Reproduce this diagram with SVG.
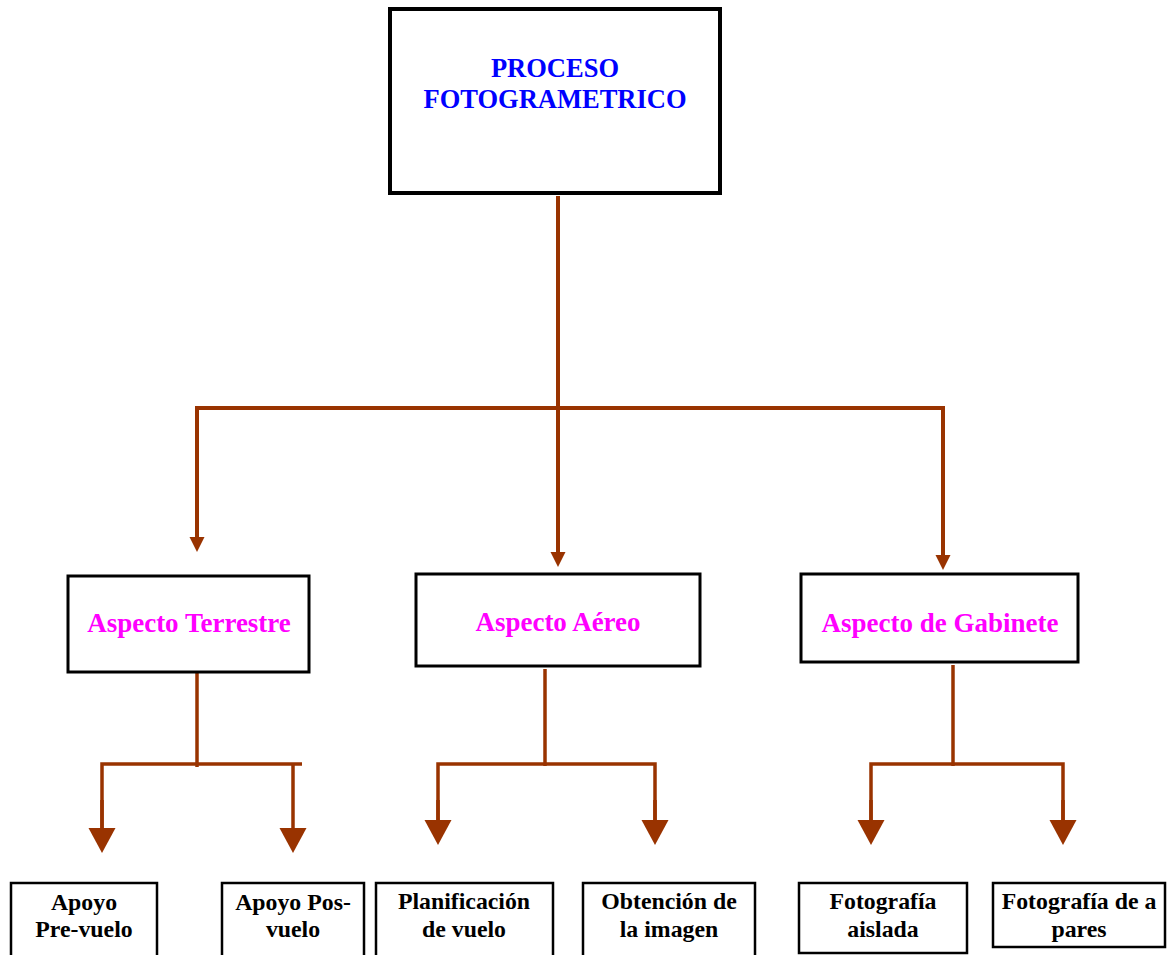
<svg xmlns="http://www.w3.org/2000/svg" width="1170" height="955" viewBox="0 0 1170 955">
<style>
  .box { fill: #ffffff; stroke: #000000; }
  .top { stroke-width: 4; }
  .mid { stroke-width: 3; }
  .bot { stroke-width: 2.5; }
  .t { font-family: "Liberation Serif", "Times New Roman", serif; font-weight: bold; text-anchor: middle; }
  .tt { font-size: 26.5px; fill: #0000ff; }
  .mt { font-size: 27px; fill: #ff00ff; }
  .bt { font-size: 23.8px; fill: #000000; }
  .conn { fill: none; stroke: #993300; stroke-linejoin: miter; }
  .c1 { stroke-width: 4; }
  .c2 { stroke-width: 3.5; }
</style>
<defs>
  <marker id="arrS" markerUnits="userSpaceOnUse" markerWidth="16" markerHeight="16" refX="0" refY="7.5" orient="auto" overflow="visible">
    <path d="M0,0 L15,7.5 L0,15 z" fill="#993300"/>
  </marker>
  <marker id="arrL" markerUnits="userSpaceOnUse" markerWidth="28" markerHeight="28" refX="0" refY="13.5" orient="auto" overflow="visible">
    <path d="M0,0 L25,13.5 L0,27 z" fill="#993300"/>
  </marker>
</defs>
<rect width="1170" height="955" fill="#ffffff"/>

<g id="connectors">
  <path class="conn c1" d="M558,196 V552" marker-end="url(#arrS)"/>
  <path class="conn c1" d="M197,537 V408 H943 V555" />
  <path class="conn c1" d="M197,420 V537" marker-end="url(#arrS)"/>
  <path class="conn c1" d="M943,420 V555" marker-end="url(#arrS)"/>

  <path class="conn c2" d="M197,673 V767"/>
  <path class="conn c2" d="M102,828 V764 H302"/>
  <path class="conn c2" d="M102,800 V828" marker-end="url(#arrL)"/>
  <path class="conn c2" d="M293,764 V828" marker-end="url(#arrL)"/>

  <path class="conn c2" d="M545,669 V766"/>
  <path class="conn c2" d="M438,820 V764 H655 V820"/>
  <path class="conn c2" d="M438,800 V820" marker-end="url(#arrL)"/>
  <path class="conn c2" d="M655,800 V820" marker-end="url(#arrL)"/>

  <path class="conn c2" d="M953,665 V766"/>
  <path class="conn c2" d="M871,820 V764 H1063 V820"/>
  <path class="conn c2" d="M871,800 V820" marker-end="url(#arrL)"/>
  <path class="conn c2" d="M1063,800 V820" marker-end="url(#arrL)"/>
</g>

<g id="proceso">
  <rect class="box top" x="390" y="9" width="330" height="184"/>
  <text class="t tt" x="555" y="77">PROCESO</text>
  <text class="t tt" x="555" y="108">FOTOGRAMETRICO</text>
</g>

<g id="terrestre">
  <rect class="box mid" x="68" y="576" width="241" height="96"/>
  <text class="t mt" x="189" y="632">Aspecto Terrestre</text>
</g>
<g id="aereo">
  <rect class="box mid" x="416" y="574" width="284" height="92"/>
  <text class="t mt" x="558" y="631">Aspecto Aéreo</text>
</g>
<g id="gabinete">
  <rect class="box mid" x="801" y="574" width="277" height="88"/>
  <text class="t mt" x="940" y="632">Aspecto de Gabinete</text>
</g>

<g id="prevuelo">
  <rect class="box bot" x="11" y="883" width="146" height="100"/>
  <text class="t bt" x="84" y="910">Apoyo</text>
  <text class="t bt" x="84" y="937">Pre-vuelo</text>
</g>
<g id="posvuelo">
  <rect class="box bot" x="222" y="883" width="142" height="100"/>
  <text class="t bt" x="293" y="910">Apoyo Pos-</text>
  <text class="t bt" x="293" y="937">vuelo</text>
</g>
<g id="planificacion">
  <rect class="box bot" x="376" y="883" width="177" height="100"/>
  <text class="t bt" x="464" y="909">Planificación</text>
  <text class="t bt" x="464" y="937">de vuelo</text>
</g>
<g id="obtencion">
  <rect class="box bot" x="583" y="883" width="172" height="100"/>
  <text class="t bt" x="669" y="909">Obtención de</text>
  <text class="t bt" x="669" y="937">la imagen</text>
</g>
<g id="aislada">
  <rect class="box bot" x="799" y="883" width="168" height="70"/>
  <text class="t bt" x="883" y="909">Fotografía</text>
  <text class="t bt" x="883" y="937">aislada</text>
</g>
<g id="pares">
  <rect class="box bot" x="993" y="883" width="172" height="64"/>
  <text class="t bt" x="1079" y="909">Fotografía de a</text>
  <text class="t bt" x="1079" y="937">pares</text>
</g>
</svg>
